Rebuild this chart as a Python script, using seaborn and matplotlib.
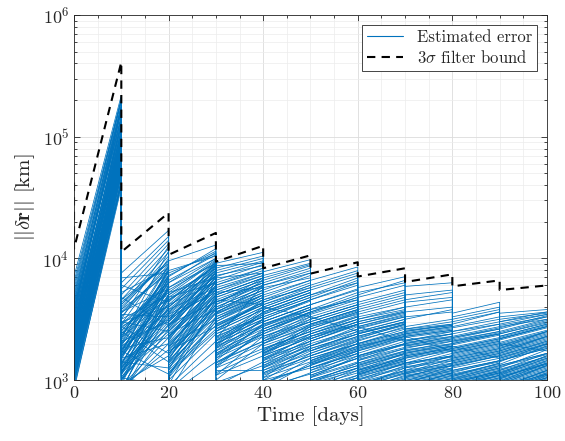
import numpy as np
import pandas as pd
import matplotlib
matplotlib.use('Agg')
import matplotlib.pyplot as plt
import seaborn as sns
from matplotlib.lines import Line2D
from matplotlib.ticker import LogLocator, MultipleLocator, NullFormatter

# segment boundaries (days) - the filter is reset every 10 days
seg_t = [0, 10, 20, 30, 40, 50, 60, 70, 80, 90, 100]

# log10 of estimated error [km] at the start / end of every segment, one value per trial
seg0_start = [3.31, 3.05, 3.62, 3.18, 3.44, 2.96, 3.27, 3.55, 3.12, 3.39, 3.08, 3.70, 3.22, 3.47, 3.01, 3.35, 3.15, 3.58, 3.26, 3.85,
              3.10, 3.42, 3.20, 3.51, 2.92, 3.33, 3.17, 3.66, 3.29, 3.03, 3.48, 3.13, 3.37, 3.24, 3.78, 3.06, 3.41, 3.19, 3.53, 2.98,
              3.30, 3.11, 3.60, 3.23, 3.45, 3.02, 3.36, 3.16, 3.50, 3.28, 3.72, 3.09, 3.40, 3.21, 2.94, 3.34, 3.14, 3.57, 3.25, 3.46,
              3.08, 3.52, 3.19, 3.37, 2.97, 3.64, 3.26, 3.43, 3.12, 3.31, 3.00, 3.56, 3.22, 3.48, 3.05, 3.68, 3.17, 3.39, 3.28, 3.10,
              3.75, 3.34, 3.02, 3.46, 3.24, 3.59, 3.14, 3.81, 3.30, 2.99, 3.41, 3.20, 3.53, 3.07, 3.36, 3.63, 3.18, 3.44, 3.27, 3.11]
seg0_end = [4.89, 4.75, 5.17, 4.80, 5.04, 4.62, 4.79, 5.17, 4.80, 4.94, 4.68, 5.25, 4.92, 5.05, 4.73, 4.99, 4.70, 5.24, 4.86, 5.34,
            4.74, 5.10, 4.78, 5.11, 4.62, 4.89, 4.83, 5.29, 5.01, 4.65, 5.00, 4.83, 4.97, 4.90, 5.30, 4.64, 5.05, 4.75, 5.21, 4.70,
            4.92, 4.69, 5.16, 4.87, 5.15, 4.62, 4.94, 4.88, 5.12, 4.83, 5.30, 4.75, 4.96, 4.83, 4.58, 5.04, 4.76, 5.15, 4.93, 5.08,
            4.74, 5.10, 4.89, 4.93, 4.71, 5.24, 4.90, 4.97, 4.74, 4.99, 4.60, 5.22, 4.78, 5.12, 4.75, 5.26, 4.77, 5.11, 4.86, 4.78,
            5.31, 4.96, 4.68, 5.06, 4.94, 5.21, 4.72, 5.31, 4.96, 4.61, 4.99, 4.84, 5.23, 4.63, 5.02, 5.25, 4.86, 5.00, 4.89, 4.81]
seg1_start = [3.12, 3.45, 2.95, 3.30, 3.62, 3.05, 3.22, 3.88, 3.15, 3.38, 2.88, 3.52, 3.08, 3.27, 3.70, 3.18, 3.02, 3.41, 3.25, 3.56,
              2.92, 3.33, 3.10, 3.48, 3.20, 3.75, 3.00, 3.36, 3.14, 3.60, 3.28, 2.97, 3.43, 3.06, 3.24, 3.66, 3.17, 3.50, 2.90, 3.31,
              3.11, 3.80, 3.21, 3.40, 3.03, 3.55, 3.26, 3.13, 3.46, 2.94, 3.35, 3.19, 3.64, 3.07, 3.29, 3.01, 3.44, 3.23, 3.58, 3.09,
              3.48, 2.98, 3.66, 3.20, 3.04, 3.40, 3.72, 3.14, 2.93, 3.32, 3.58, 3.06, 3.26, 3.84, 3.10, 3.44, 2.89, 3.36, 3.54, 3.00,
              3.22, 3.68, 3.12, 3.30, 2.96, 3.50, 3.18, 3.62, 3.02, 3.38, 3.24, 3.78, 3.08, 3.46, 2.91, 3.34, 3.16, 3.56, 3.28, 3.05]
seg1_end = [3.62, 3.78, 3.35, 3.90, 4.05, 3.48, 3.70, 4.23, 3.10, 3.85, 3.55, 3.95, 3.40, 3.66, 4.12, 3.80, 2.95, 3.74, 3.58, 3.92,
            3.30, 3.88, 3.52, 3.60, 3.76, 4.15, 3.45, 3.82, 3.68, 3.98, 3.50, 3.20, 3.72, 3.64, 3.05, 4.08, 3.84, 3.70, 3.42, 3.94,
            3.56, 4.18, 3.75, 3.86, 3.38, 3.90, 3.62, 3.78, 4.00, 3.25, 3.68, 3.86, 3.96, 3.54, 3.80, 3.46, 3.66, 3.92, 3.88, 3.60,
            3.40, 3.70, 3.96, 3.58, 3.85, 3.15, 3.92, 3.74, 3.60, 3.48, 4.02, 3.82, 3.35, 3.88, 3.66, 3.22, 3.78, 3.94, 3.52, 3.70,
            3.90, 3.45, 3.84, 3.62, 3.76, 4.10, 3.30, 3.98, 3.56, 3.72, 3.86, 3.64, 3.50, 3.80, 3.68, 4.06, 3.42, 3.75, 3.90, 3.58]
seg2_start = [3.35, 3.62, 3.10, 3.48, 3.80, 3.22, 3.55, 3.98, 2.95, 3.40, 3.15, 3.70, 3.28, 3.05, 3.58, 3.44, 2.88, 3.66, 3.30, 3.52,
              3.12, 3.85, 3.38, 3.20, 3.60, 3.90, 3.25, 3.46, 3.08, 3.74, 3.33, 3.00, 3.50, 3.18, 2.92, 3.64, 3.42, 3.27, 3.14, 3.56,
              3.36, 3.76, 3.22, 3.68, 3.02, 3.45, 3.31, 3.54, 3.72, 3.06, 3.40, 3.60, 3.82, 3.24, 3.50, 3.16, 3.36, 3.65, 3.48, 3.29,
              3.62, 3.14, 3.44, 3.28, 3.76, 3.02, 3.54, 3.20, 3.86, 3.38, 3.08, 3.66, 3.24, 3.48, 2.96, 3.58, 3.32, 3.72, 3.12, 3.42,
              3.88, 3.18, 3.52, 3.04, 3.34, 3.70, 3.26, 3.46, 2.90, 3.60, 3.36, 3.80, 3.16, 3.50, 3.06, 3.40, 3.68, 3.22, 3.56, 3.10]
seg2_end = [3.72, 3.95, 3.50, 3.84, 4.05, 3.58, 3.88, 4.11, 3.32, 3.76, 3.62, 3.98, 3.70, 3.40, 3.90, 3.80, 3.15, 3.94, 3.66, 3.86,
            3.55, 4.08, 3.74, 3.60, 3.92, 4.02, 3.68, 3.82, 3.45, 3.96, 3.78, 3.38, 3.88, 3.64, 3.25, 3.97, 3.84, 3.70, 3.52, 3.90,
            3.74, 4.00, 3.62, 3.94, 3.48, 3.80, 3.72, 3.86, 3.99, 3.42, 3.76, 3.92, 4.03, 3.66, 3.86, 3.56, 3.78, 3.95, 3.82, 3.70,
            3.80, 3.62, 3.92, 3.50, 3.96, 3.70, 3.74, 3.86, 4.06, 3.58, 3.82, 3.88, 3.44, 3.98, 3.66, 3.76, 3.90, 3.84, 3.55, 3.94,
            4.04, 3.68, 3.72, 3.60, 3.86, 3.92, 3.78, 3.64, 3.52, 3.96, 3.70, 4.00, 3.82, 3.74, 3.48, 3.88, 3.80, 3.66, 3.94, 3.58]
seg3_start = [3.40, 3.68, 3.15, 3.55, 3.82, 3.28, 3.60, 3.96, 3.08, 3.45, 3.22, 3.74, 3.36, 3.12, 3.64, 3.50, 2.95, 3.70, 3.32, 3.58,
              3.18, 3.88, 3.42, 3.26, 3.66, 3.92, 3.30, 3.52, 3.10, 3.78, 3.38, 3.04, 3.56, 3.24, 2.98, 3.72, 3.46, 3.34, 3.20, 3.62,
              3.40, 3.80, 3.27, 3.70, 3.06, 3.48, 3.35, 3.58, 3.76, 3.14, 3.44, 3.64, 3.85, 3.30, 3.54, 3.21, 3.42, 3.68, 3.50, 3.33,
              3.52, 3.20, 3.66, 3.34, 3.84, 3.12, 3.58, 3.28, 3.90, 3.44, 3.16, 3.72, 3.30, 3.54, 3.04, 3.62, 3.38, 3.78, 3.22, 3.48,
              3.94, 3.26, 3.56, 3.10, 3.40, 3.74, 3.32, 3.50, 3.00, 3.64, 3.42, 3.86, 3.24, 3.55, 3.14, 3.46, 3.70, 3.29, 3.60, 3.18]
seg3_end = [3.58, 3.82, 3.32, 3.70, 3.95, 3.45, 3.76, 4.05, 3.08, 3.62, 3.40, 3.88, 3.52, 3.30, 3.78, 3.66, 3.15, 3.84, 3.50, 3.74,
            3.36, 3.98, 3.60, 3.44, 3.80, 4.02, 3.48, 3.68, 3.26, 3.90, 3.55, 3.20, 3.72, 3.42, 3.12, 3.86, 3.64, 3.52, 3.38, 3.78,
            3.58, 3.92, 3.46, 3.84, 3.24, 3.66, 3.54, 3.74, 3.88, 3.32, 3.62, 3.80, 3.97, 3.48, 3.70, 3.38, 3.60, 3.82, 3.68, 3.50,
            3.70, 3.50, 3.62, 3.78, 3.88, 3.40, 3.82, 3.56, 4.00, 3.64, 3.46, 3.76, 3.58, 3.72, 3.36, 3.84, 3.52, 3.92, 3.44, 3.68,
            3.96, 3.54, 3.74, 3.42, 3.66, 3.86, 3.60, 3.70, 3.30, 3.80, 3.64, 3.94, 3.50, 3.78, 3.38, 3.62, 3.84, 3.56, 3.76, 3.46]
seg4_start = [3.30, 3.58, 3.05, 3.45, 3.72, 3.18, 3.50, 3.89, 3.00, 3.38, 3.12, 3.64, 3.26, 3.02, 3.55, 3.40, 2.94, 3.62, 3.22, 3.48,
              3.08, 3.80, 3.32, 3.16, 3.56, 3.84, 3.20, 3.42, 3.04, 3.68, 3.28, 2.98, 3.46, 3.14, 2.92, 3.60, 3.36, 3.24, 3.10, 3.52,
              3.30, 3.74, 3.17, 3.60, 2.97, 3.40, 3.25, 3.48, 3.66, 3.06, 3.34, 3.54, 3.78, 3.20, 3.44, 3.11, 3.32, 3.58, 3.42, 3.23,
              3.46, 3.10, 3.60, 3.22, 3.76, 3.02, 3.50, 3.18, 3.82, 3.36, 3.06, 3.66, 3.24, 3.44, 2.96, 3.56, 3.30, 3.70, 3.14, 3.40,
              3.86, 3.20, 3.48, 3.00, 3.34, 3.64, 3.26, 3.42, 2.93, 3.58, 3.32, 3.78, 3.16, 3.52, 3.08, 3.38, 3.62, 3.21, 3.54, 3.12]
seg4_end = [3.45, 3.72, 3.20, 3.60, 3.86, 3.32, 3.65, 3.99, 3.10, 3.52, 3.28, 3.78, 3.40, 3.15, 3.70, 3.55, 3.05, 3.76, 3.38, 3.62,
            3.22, 3.92, 3.48, 3.30, 3.70, 3.95, 3.35, 3.56, 3.18, 3.82, 3.42, 3.12, 3.60, 3.28, 3.06, 3.74, 3.50, 3.38, 3.25, 3.66,
            3.44, 3.88, 3.32, 3.74, 3.12, 3.54, 3.40, 3.62, 3.80, 3.20, 3.48, 3.68, 3.90, 3.35, 3.58, 3.26, 3.46, 3.72, 3.56, 3.36,
            3.58, 3.30, 3.52, 3.44, 3.84, 3.28, 3.66, 3.36, 3.94, 3.48, 3.24, 3.76, 3.46, 3.60, 3.18, 3.70, 3.50, 3.82, 3.34, 3.56,
            3.96, 3.42, 3.62, 3.22, 3.54, 3.78, 3.40, 3.58, 3.14, 3.72, 3.52, 3.88, 3.38, 3.66, 3.26, 3.56, 3.74, 3.44, 3.68, 3.32]
seg5_start = [3.20, 3.48, 2.98, 3.36, 3.62, 3.10, 3.42, 3.82, 2.92, 3.28, 3.04, 3.55, 3.16, 2.95, 3.46, 3.32, 2.88, 3.52, 3.14, 3.38,
              3.00, 3.70, 3.24, 3.08, 3.46, 3.76, 3.12, 3.34, 2.97, 3.58, 3.20, 2.90, 3.38, 3.06, 2.86, 3.50, 3.28, 3.16, 3.02, 3.44,
              3.22, 3.66, 3.10, 3.50, 2.93, 3.32, 3.18, 3.40, 3.56, 2.99, 3.26, 3.45, 3.68, 3.13, 3.36, 3.03, 3.24, 3.50, 3.34, 3.15,
              3.36, 3.02, 3.52, 3.14, 3.66, 2.94, 3.42, 3.10, 3.74, 3.26, 2.98, 3.58, 3.16, 3.34, 2.89, 3.48, 3.22, 3.62, 3.06, 3.30,
              3.78, 3.12, 3.40, 2.92, 3.24, 3.54, 3.18, 3.32, 2.87, 3.46, 3.20, 3.70, 3.08, 3.44, 3.00, 3.28, 3.56, 3.13, 3.38, 3.04]
seg5_end = [3.32, 3.60, 3.10, 3.50, 3.75, 3.22, 3.55, 3.93, 3.02, 3.42, 3.18, 3.68, 3.30, 3.06, 3.58, 3.46, 2.98, 3.64, 3.26, 3.52,
            3.12, 3.84, 3.38, 3.20, 3.58, 3.88, 3.25, 3.48, 3.08, 3.72, 3.33, 3.02, 3.50, 3.18, 2.96, 3.62, 3.40, 3.28, 3.14, 3.56,
            3.35, 3.80, 3.22, 3.62, 3.04, 3.45, 3.30, 3.53, 3.70, 3.10, 3.38, 3.57, 3.82, 3.24, 3.48, 3.15, 3.36, 3.62, 3.46, 3.27,
            3.46, 3.20, 3.40, 3.30, 3.78, 3.10, 3.56, 3.24, 3.86, 3.38, 3.14, 3.66, 3.32, 3.48, 3.04, 3.60, 3.36, 3.74, 3.22, 3.42,
            3.90, 3.28, 3.52, 3.08, 3.40, 3.66, 3.30, 3.46, 3.02, 3.58, 3.34, 3.80, 3.24, 3.54, 3.12, 3.44, 3.68, 3.26, 3.50, 3.18]
seg6_start = [3.12, 3.40, 2.92, 3.28, 3.52, 3.04, 3.35, 3.76, 2.88, 3.20, 2.98, 3.46, 3.08, 2.90, 3.38, 3.24, 2.85, 3.44, 3.06, 3.30,
              2.95, 3.68, 3.16, 3.01, 3.38, 3.72, 3.05, 3.26, 2.91, 3.50, 3.13, 2.87, 3.30, 3.00, 2.84, 3.42, 3.20, 3.09, 2.96, 3.36,
              3.14, 3.62, 3.03, 3.44, 2.89, 3.25, 3.11, 3.33, 3.48, 2.93, 3.19, 3.39, 3.58, 3.07, 3.29, 2.97, 3.17, 3.43, 3.27, 3.08,
              3.28, 2.94, 3.44, 3.06, 3.56, 2.87, 3.34, 3.02, 3.64, 3.18, 2.91, 3.48, 3.08, 3.26, 2.84, 3.40, 3.14, 3.54, 2.98, 3.22,
              3.70, 3.04, 3.32, 2.86, 3.16, 3.46, 3.10, 3.24, 2.82, 3.38, 3.12, 3.60, 3.00, 3.36, 2.93, 3.20, 3.50, 3.05, 3.30, 2.96]
seg6_end = [3.22, 3.50, 3.02, 3.38, 3.60, 3.14, 3.45, 3.85, 2.97, 3.30, 3.08, 3.55, 3.18, 3.00, 3.48, 3.34, 2.95, 3.54, 3.16, 3.40,
            3.05, 3.78, 3.26, 3.11, 3.47, 3.80, 3.15, 3.36, 3.01, 3.58, 3.23, 2.97, 3.40, 3.10, 2.94, 3.52, 3.30, 3.19, 3.06, 3.46,
            3.24, 3.72, 3.13, 3.53, 2.99, 3.35, 3.21, 3.43, 3.57, 3.03, 3.29, 3.48, 3.68, 3.17, 3.39, 3.07, 3.27, 3.52, 3.37, 3.18,
            3.36, 3.10, 3.32, 3.20, 3.66, 3.00, 3.46, 3.14, 3.74, 3.30, 3.04, 3.56, 3.22, 3.38, 2.98, 3.50, 3.26, 3.64, 3.12, 3.34,
            3.82, 3.18, 3.44, 3.00, 3.30, 3.56, 3.22, 3.36, 2.96, 3.48, 3.24, 3.70, 3.14, 3.46, 3.06, 3.32, 3.60, 3.16, 3.42, 3.08]
seg7_start = [3.05, 3.32, 2.88, 3.22, 3.40, 2.98, 3.28, 3.77, 2.84, 3.14, 2.93, 3.38, 3.02, 2.86, 3.30, 3.18, 2.82, 3.36, 3.00, 3.24,
              2.90, 3.64, 3.10, 2.96, 3.31, 3.70, 2.99, 3.20, 2.87, 3.42, 3.07, 2.83, 3.25, 2.95, 2.81, 3.35, 3.14, 3.04, 2.91, 3.29,
              3.08, 3.56, 2.97, 3.37, 2.85, 3.19, 3.06, 3.27, 3.41, 2.89, 3.13, 3.33, 3.52, 3.01, 3.23, 2.92, 3.11, 3.36, 3.21, 3.03,
              3.20, 2.88, 3.36, 2.99, 3.44, 2.83, 3.26, 2.95, 3.60, 3.10, 2.86, 3.38, 3.02, 3.18, 2.80, 3.32, 3.06, 3.42, 2.92, 3.14,
              3.66, 2.97, 3.24, 2.82, 3.08, 3.40, 3.03, 3.16, 2.79, 3.30, 3.05, 3.50, 2.94, 3.28, 2.88, 3.12, 3.39, 2.98, 3.22, 2.90]
seg7_end = [3.12, 3.38, 2.95, 3.28, 3.45, 3.04, 3.33, 3.80, 2.90, 3.20, 2.99, 3.43, 3.08, 2.92, 3.35, 3.24, 2.88, 3.41, 3.06, 3.29,
            2.96, 3.68, 3.16, 3.02, 3.36, 3.74, 3.05, 3.26, 2.93, 3.46, 3.13, 2.89, 3.30, 3.01, 2.87, 3.40, 3.20, 3.10, 2.97, 3.34,
            3.14, 3.60, 3.03, 3.42, 2.91, 3.25, 3.12, 3.32, 3.45, 2.95, 3.19, 3.38, 3.56, 3.07, 3.28, 2.98, 3.17, 3.41, 3.27, 3.09,
            3.26, 3.02, 3.24, 3.12, 3.50, 2.95, 3.34, 3.06, 3.66, 3.20, 2.98, 3.44, 3.14, 3.28, 2.92, 3.40, 3.18, 3.48, 3.04, 3.24,
            3.72, 3.10, 3.32, 2.94, 3.20, 3.46, 3.12, 3.26, 2.90, 3.38, 3.16, 3.58, 3.06, 3.36, 2.98, 3.22, 3.44, 3.08, 3.30, 3.00]
seg8_start = [3.00, 3.26, 2.85, 3.16, 3.34, 2.94, 3.22, 3.55, 2.82, 3.08, 2.90, 3.32, 2.98, 2.84, 3.24, 3.12, 2.80, 3.30, 2.96, 3.18,
              2.87, 3.48, 3.04, 2.92, 3.25, 3.52, 2.95, 3.14, 2.83, 3.36, 3.02, 2.81, 3.19, 2.91, 2.79, 3.29, 3.08, 2.99, 2.88, 3.23,
              3.03, 3.44, 2.93, 3.31, 2.83, 3.13, 3.01, 3.21, 3.35, 2.86, 3.07, 3.27, 3.40, 2.97, 3.17, 2.89, 3.05, 3.30, 3.15, 2.99,
              3.12, 2.84, 3.28, 2.95, 3.38, 2.80, 3.20, 2.90, 3.46, 3.04, 2.82, 3.33, 2.97, 3.14, 2.78, 3.26, 3.01, 3.40, 2.88, 3.10,
              3.50, 2.93, 3.18, 2.79, 3.03, 3.35, 2.98, 3.11, 2.76, 3.24, 3.00, 3.43, 2.91, 3.22, 2.85, 3.06, 3.32, 2.95, 3.16, 2.87]
seg8_end = [3.08, 3.34, 2.93, 3.24, 3.42, 3.02, 3.30, 3.64, 2.89, 3.16, 2.97, 3.40, 3.06, 2.91, 3.32, 3.20, 2.87, 3.38, 3.04, 3.26,
            2.95, 3.56, 3.12, 3.00, 3.33, 3.60, 3.03, 3.22, 2.90, 3.44, 3.10, 2.88, 3.27, 2.99, 2.86, 3.37, 3.16, 3.07, 2.96, 3.31,
            3.11, 3.52, 3.01, 3.39, 2.91, 3.21, 3.09, 3.29, 3.43, 2.94, 3.15, 3.35, 3.48, 3.05, 3.25, 2.97, 3.13, 3.38, 3.23, 3.07,
            3.20, 2.98, 3.18, 3.06, 3.46, 2.92, 3.28, 3.00, 3.56, 3.14, 2.94, 3.40, 3.08, 3.22, 2.90, 3.34, 3.12, 3.46, 3.00, 3.18,
            3.58, 3.04, 3.26, 2.91, 3.14, 3.42, 3.06, 3.20, 2.88, 3.32, 3.10, 3.50, 3.02, 3.30, 2.96, 3.16, 3.38, 3.04, 3.24, 2.99]
seg9_start = [3.04, 3.30, 2.90, 3.20, 3.38, 2.98, 3.26, 3.55, 2.86, 3.12, 2.94, 3.36, 3.02, 2.88, 3.28, 3.16, 2.84, 3.34, 3.00, 3.22,
              2.92, 3.48, 3.08, 2.96, 3.29, 3.52, 2.99, 3.18, 2.87, 3.40, 3.06, 2.85, 3.23, 2.95, 2.83, 3.33, 3.12, 3.03, 2.92, 3.27,
              3.07, 3.45, 2.97, 3.35, 2.87, 3.17, 3.05, 3.25, 3.39, 2.90, 3.11, 3.31, 3.43, 3.01, 3.21, 2.93, 3.09, 3.34, 3.19, 3.03,
              3.16, 2.88, 3.30, 2.99, 3.42, 2.85, 3.24, 2.94, 3.48, 3.08, 2.86, 3.36, 3.01, 3.18, 2.82, 3.28, 3.05, 3.44, 2.91, 3.13,
              3.50, 2.96, 3.22, 2.84, 3.06, 3.38, 3.02, 3.15, 2.81, 3.26, 3.04, 3.46, 2.93, 3.24, 2.89, 3.10, 3.34, 2.98, 3.20, 2.90]
seg9_end = [3.14, 3.40, 3.02, 3.30, 3.48, 3.08, 3.36, 3.58, 2.98, 3.22, 3.05, 3.46, 3.12, 3.00, 3.38, 3.26, 2.96, 3.44, 3.10, 3.32,
            3.03, 3.54, 3.18, 3.06, 3.39, 3.56, 3.09, 3.28, 2.99, 3.50, 3.16, 2.97, 3.33, 3.05, 2.95, 3.43, 3.22, 3.13, 3.02, 3.37,
            3.17, 3.52, 3.07, 3.45, 2.99, 3.27, 3.15, 3.35, 3.49, 3.01, 3.21, 3.41, 3.53, 3.11, 3.31, 3.04, 3.19, 3.44, 3.29, 3.13,
            3.26, 3.04, 3.24, 3.14, 3.52, 2.99, 3.34, 3.08, 3.56, 3.22, 3.00, 3.46, 3.16, 3.30, 2.96, 3.40, 3.20, 3.50, 3.06, 3.28,
            3.55, 3.12, 3.36, 2.98, 3.20, 3.47, 3.14, 3.30, 2.95, 3.40, 3.18, 3.54, 3.08, 3.36, 3.02, 3.25, 3.44, 3.12, 3.32, 3.05]

# 3-sigma filter bound [km]
bound_t = [0, 0, 10, 10, 20, 20, 30, 30, 40, 40, 50, 50, 60, 60, 70, 70, 80, 80, 90, 90, 100]
bound_km = [4.2e4, 1.2e4, 4.1e5, 1.13e4, 2.37e4, 1.07e4, 1.62e4, 9.4e3, 1.27e4, 8.3e3, 1.06e4,
            7.5e3, 9.3e3, 7.1e3, 8.3e3, 6.4e3, 7.4e3, 5.9e3, 6.6e3, 5.5e3, 6.0e3]

starts = [seg0_start, seg1_start, seg2_start, seg3_start, seg4_start,
          seg5_start, seg6_start, seg7_start, seg8_start, seg9_start]
ends = [seg0_end, seg1_end, seg2_end, seg3_end, seg4_end,
        seg5_end, seg6_end, seg7_end, seg8_end, seg9_end]

rows = []
for trial in range(len(seg0_start)):
    for k in range(10):
        rows.append((trial, seg_t[k], 10 ** starts[k][trial]))
        rows.append((trial, seg_t[k + 1], 10 ** ends[k][trial]))
df = pd.DataFrame(rows, columns=['trial', 'time', 'err'])
df_bound = pd.DataFrame({'time': bound_t, 'err': bound_km})

sns.set_style('ticks')
plt.rcParams['font.family'] = 'serif'
plt.rcParams['font.serif'] = ['cmr10']
plt.rcParams['mathtext.fontset'] = 'cm'
plt.rcParams['axes.formatter.use_mathtext'] = True

blue = '#0072BD'
fig = plt.figure(figsize=(5.65, 4.41), dpi=100)
ax = fig.add_axes([0.131, 0.138, 0.837, 0.828])

sns.lineplot(data=df, x='time', y='err', units='trial', estimator=None, sort=False,
             color=blue, lw=0.55, ax=ax, legend=False)
sns.lineplot(data=df_bound, x='time', y='err', sort=False, estimator=None,
             color='black', lw=1.5, ls=(0, (4, 3)), ax=ax, legend=False)

ax.set_yscale('log')
ax.set_xlim(0, 100)
ax.set_ylim(1e3, 1e6)
ax.xaxis.set_major_locator(MultipleLocator(20))
ax.xaxis.set_minor_locator(MultipleLocator(5))
ax.yaxis.set_major_locator(LogLocator(base=10, numticks=10))
ax.yaxis.set_minor_locator(LogLocator(base=10, subs=np.arange(2, 10), numticks=20))
ax.yaxis.set_minor_formatter(NullFormatter())
ax.grid(which='major', color='#dcdcdc', lw=0.6)
ax.grid(which='minor', color='#ececec', lw=0.5)
ax.set_axisbelow(True)
ax.tick_params(which='both', direction='in', top=True, right=True, labelsize=13, width=0.6)
ax.tick_params(which='major', length=4)
ax.tick_params(which='minor', length=2)
for s in ax.spines.values():
    s.set_linewidth(0.6)
    s.set_color('#262626')

ax.set_xlabel('Time [days]', fontsize=15)
ax.set_ylabel(r'$||\delta\mathbf{r}||$ [km]', fontsize=15)

handles = [Line2D([], [], color=blue, lw=0.8), Line2D([], [], color='black', lw=1.5, ls=(0, (4, 3)))]
leg = ax.legend(handles, ['Estimated error', r'3$\sigma$ filter bound'], loc='upper right',
                fontsize=12, fancybox=False, framealpha=1, edgecolor='#262626',
                borderaxespad=0.6, handlelength=2.2, labelspacing=0.2, borderpad=0.3)
leg.get_frame().set_linewidth(0.6)

fig.savefig('out.png', dpi=100)
